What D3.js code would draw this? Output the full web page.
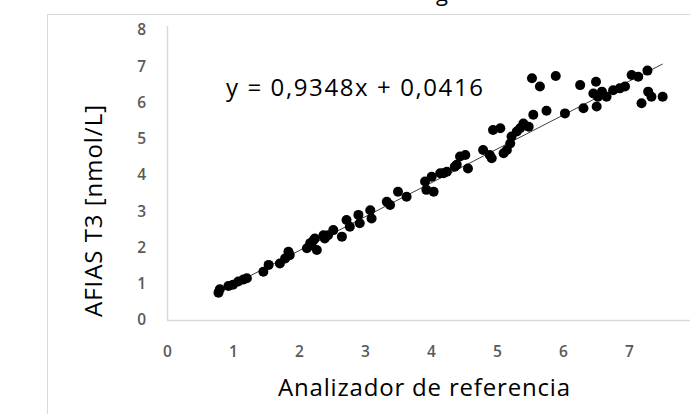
<!DOCTYPE html>
<html>
<head>
<meta charset="utf-8">
<script src="https://cdn.jsdelivr.net/npm/d3@7"></script>
<style>
  body { margin: 0; background: #fff; }
  text { font-family: "Open Sans", "Noto Sans", sans-serif; }
</style>
</head>
<body>
<div id="chart"></div>
<script>
// ---------------------------------------------------------
// DATA
// ---------------------------------------------------------

// reference analyzer values
var refValues = [
  0.78, 0.80, 0.93, 1.00, 1.08, 1.16, 1.21, 1.46, 1.54, 1.71,
  1.79, 1.84, 1.86, 2.12, 2.17, 2.19, 2.22, 2.24, 2.27, 2.37,
  2.39, 2.44, 2.52, 2.65, 2.72, 2.77, 2.90, 2.92, 3.08, 3.10,
  3.33, 3.38, 3.50, 3.63, 3.91, 3.93, 4.01, 4.04, 4.14, 4.19,
  4.24, 4.36, 4.39, 4.44, 4.52, 4.56, 4.79, 4.89, 4.92, 4.94,
  5.05, 5.10, 5.15, 5.20, 5.22, 5.30, 5.35, 5.40, 5.48, 5.55,
  5.53, 5.65, 5.75, 5.89, 6.03, 6.26, 6.31, 6.46, 6.50, 6.51,
  6.53, 6.59, 6.66, 6.76, 6.86, 6.94, 7.04, 7.14, 7.19, 7.28,
  7.29, 7.34, 7.51
];

// AFIAS T3 values
var afiasValues = [
  0.75, 0.85, 0.94, 0.97, 1.06, 1.12, 1.15, 1.33, 1.52, 1.56,
  1.70, 1.88, 1.79, 1.98, 2.12, 2.07, 2.20, 2.25, 1.93, 2.34,
  2.25, 2.34, 2.48, 2.30, 2.76, 2.57, 2.90, 2.67, 3.03, 2.80,
  3.26, 3.17, 3.54, 3.40, 3.82, 3.59, 3.95, 3.54, 4.05, 4.05,
  4.09, 4.23, 4.28, 4.51, 4.55, 4.18, 4.69, 4.55, 4.46, 5.24,
  5.29, 4.60, 4.69, 4.87, 5.06, 5.20, 5.29, 5.42, 5.33, 5.66,
  6.67, 6.44, 5.77, 6.73, 5.70, 6.48, 5.84, 6.25, 6.57, 5.89,
  6.16, 6.30, 6.16, 6.34, 6.39, 6.44, 6.76, 6.71, 5.98, 6.88,
  6.30, 6.16, 6.16
];

var xTicks = [0, 1, 2, 3, 4, 5, 6, 7, 8];
var yTicks = [0, 1, 2, 3, 4, 5, 6, 7, 8];

// linear trend line coefficients
var slope = 0.9348;
var intercept = 0.0416;

// ---------------------------------------------------------
// SET UP
// ---------------------------------------------------------

var svgWidth = 690;
var svgHeight = 414;

var svg = d3.select("#chart")
  .append("svg")
  .attr("width", svgWidth)
  .attr("height", svgHeight);

// soften the markers a little
svg.append("defs").append("filter")
  .attr("id", "soft")
  .append("feGaussianBlur")
  .attr("stdDeviation", 0.5);

// outer chart frame (cropped on right and bottom)
svg.append("path")
  .attr("d", "M47.5,414 V14.5 H690")
  .attr("fill", "none")
  .attr("stroke", "#d9d9d9")
  .attr("stroke-width", 1);

// bit of the title that pokes in at the top
svg.append("text")
  .attr("x", 442)
  .attr("y", 1)
  .attr("text-anchor", "middle")
  .attr("font-size", "22px")
  .attr("fill", "#000")
  .text("g");

var xScale = d3.scaleLinear().domain([0, 8]).range([167, 695]);
var yScale = d3.scaleLinear().domain([0, 8]).range([320, 30]);

// axes
var bottomAxis = d3.axisBottom(xScale).tickValues(xTicks).tickSize(0).tickPadding(26);
var leftAxis = d3.axisLeft(yScale).tickValues(yTicks).tickSize(0).tickPadding(21);

var xAxis = svg.append("g")
  .attr("transform", `translate(0, ${yScale(0)})`)
  .call(bottomAxis);

var yAxis = svg.append("g")
  .attr("transform", `translate(${xScale(0)}, 0)`)
  .call(leftAxis);

[xAxis, yAxis].forEach(function(ax) {
  ax.select(".domain")
    .attr("stroke", "#d9d9d9")
    .attr("stroke-width", 1.5);
  ax.selectAll("text")
    .attr("font-size", "15.5px")
    .attr("font-weight", "600")
    .attr("fill", "#595959")
    .attr("font-family", "'Open Sans', sans-serif");
});

// x axis line runs to the right edge, y axis line a little past 8
xAxis.select(".domain").attr("d", `M${xScale(0)},0.5H690`);
yAxis.select(".domain").attr("d", `M0.5,${yScale(8) - 4}V${yScale(0)}`);

// trend line
var trendX = d3.extent(refValues);
svg.append("line")
  .attr("x1", xScale(trendX[0]))
  .attr("y1", yScale(slope * trendX[0] + intercept))
  .attr("x2", xScale(trendX[1]))
  .attr("y2", yScale(slope * trendX[1] + intercept))
  .attr("stroke", "#404040")
  .attr("stroke-width", 1);

// points
svg.append("g")
  .attr("filter", "url(#soft)")
  .selectAll("circle")
  .data(refValues)
  .enter()
  .append("circle")
  .attr("cx", d => xScale(d))
  .attr("cy", (d, i) => yScale(afiasValues[i]))
  .attr("r", 5)
  .attr("fill", "#000");

// equation label
svg.append("text")
  .attr("x", 226)
  .attr("y", 96)
  .attr("font-size", "24px")
  .attr("fill", "#000")
  .attr("textLength", 257)
  .attr("lengthAdjust", "spacing")
  .style("white-space", "pre")
  .text("y = 0,9348x + 0,0416");

// axis titles
svg.append("text")
  .attr("x", 278)
  .attr("y", 396)
  .attr("font-size", "24px")
  .attr("fill", "#000")
  .attr("textLength", 292)
  .attr("lengthAdjust", "spacing")
  .text("Analizador de referencia");

svg.append("text")
  .attr("transform", "translate(102, 317) rotate(-90)")
  .attr("font-size", "24px")
  .attr("fill", "#000")
  .attr("textLength", 212)
  .attr("lengthAdjust", "spacing")
  .text("AFIAS T3 [nmol/L]");
</script>
</body>
</html>
